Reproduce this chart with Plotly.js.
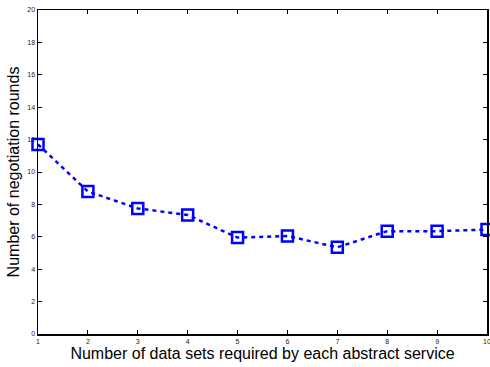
<!DOCTYPE html>
<html><head><meta charset="utf-8">
<script src="https://cdn.plot.ly/plotly-3.0.1.min.js"></script>
<style>html,body{margin:0;padding:0;background:#fff}#chart{width:490px;height:367px}</style>
</head><body><div id="chart"></div>
<script>
const dataSets = [1,2,3,4,5,6,7,8,9,10];
const rounds = [11.7, 8.8, 7.75, 7.35, 5.95, 6.05, 5.35, 6.35, 6.35, 6.45];
const yTicks = [0,2,4,6,8,10,12,14,16,18,20];
const xTitle = 'Number of data sets required by each abstract service';
const yTitle = 'Number of negotiation rounds';

Plotly.newPlot('chart', [{
  x: dataSets, y: rounds, type: 'scatter', mode: 'lines+markers',
  line: {color: '#0000ff', width: 2.5, dash: '4px,4px'},
  marker: {symbol: 'square-open', size: 11, color: '#0000ff', line: {width: 2.5, color: '#0000ff'}},
  cliponaxis: false
}], {
  width: 490, height: 367,
  margin: {l: 38, r: 3, t: 10, b: 33},
  paper_bgcolor: '#fff', plot_bgcolor: '#fff',
  showlegend: false,
  font: {family: 'Liberation Sans, Arial, sans-serif', color: '#000'},
  xaxis: {
    range: [1, 10], tickvals: dataSets, ticks: 'inside', ticklen: 4, tickcolor: '#000',
    showline: true, linecolor: '#000', linewidth: 1.5, mirror: 'ticks', showgrid: false, zeroline: false,
    tickfont: {size: 7, color: '#222'}, ticklabeloverflow: 'allow',
    title: {text: xTitle, font: {size: 16}, standoff: 0}
  },
  yaxis: {
    range: [0, 20], tickvals: yTicks, ticks: 'inside', ticklen: 4, tickcolor: '#000',
    showline: true, linecolor: '#000', linewidth: 1.5, mirror: 'ticks', showgrid: false, zeroline: false,
    tickfont: {size: 7, color: '#222'}, ticklabeloverflow: 'allow',
    title: {text: yTitle, font: {size: 16}, standoff: 3}
  }
}, {displayModeBar: false, staticPlot: true});
</script></body></html>
